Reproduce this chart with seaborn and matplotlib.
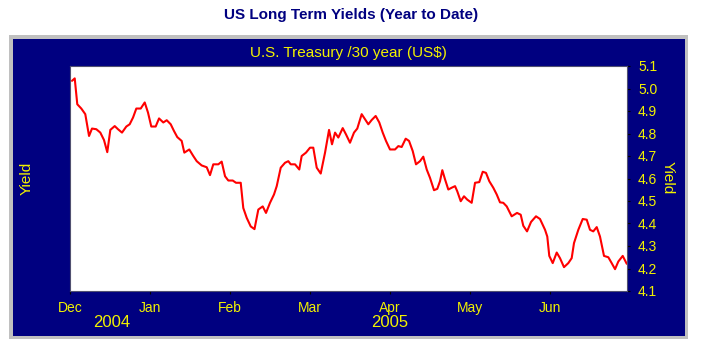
import matplotlib
matplotlib.use("Agg")
import matplotlib.pyplot as plt
from matplotlib.patches import Rectangle
import seaborn as sns
import pandas as pd

# ---- data (x in months since 1 Dec 2004, y = 30-year yield %) ----
month_pos = [0.025, 0.059, 0.091, 0.141, 0.191, 0.238, 0.275, 0.329, 0.379, 0.425,
             0.466, 0.504, 0.559, 0.600, 0.650, 0.704, 0.746, 0.788, 0.829, 0.884,
             0.934, 0.975, 1.016, 1.071, 1.113, 1.166, 1.209, 1.259, 1.300, 1.341,
             1.396, 1.429, 1.491, 1.541, 1.584, 1.646, 1.709, 1.750, 1.791, 1.854,
             1.896, 1.938, 1.979, 2.034, 2.075, 2.134, 2.166, 2.209, 2.259, 2.306,
             2.354, 2.409, 2.450, 2.500, 2.550, 2.584, 2.634, 2.688, 2.729, 2.759,
             2.813, 2.866, 2.896, 2.950, 3.000, 3.041, 3.084, 3.134, 3.188, 3.238,
             3.275, 3.313, 3.354, 3.409, 3.450, 3.500, 3.550, 3.591, 3.646, 3.688,
             3.729, 3.771, 3.821, 3.866, 3.909, 3.950, 4.000, 4.063, 4.104, 4.146,
             4.196, 4.238, 4.284, 4.325, 4.375, 4.416, 4.459, 4.500, 4.550, 4.591,
             4.625, 4.654, 4.688, 4.729, 4.771, 4.813, 4.841, 4.884, 4.925, 4.966,
             5.021, 5.063, 5.116, 5.159, 5.200, 5.241, 5.291, 5.334, 5.375, 5.416,
             5.459, 5.521, 5.588, 5.634, 5.666, 5.713, 5.763, 5.825, 5.875, 5.938,
             5.966, 5.991, 6.034, 6.084, 6.125, 6.175, 6.229, 6.271, 6.300, 6.354,
             6.409, 6.459, 6.500, 6.541, 6.584, 6.625, 6.675, 6.729, 6.771, 6.813,
             6.854, 6.909, 6.959]
yields = [5.034, 5.045, 4.930, 4.911, 4.886, 4.789, 4.822, 4.819, 4.804, 4.771,
          4.717, 4.816, 4.833, 4.819, 4.804, 4.831, 4.841, 4.871, 4.911, 4.911,
          4.938, 4.893, 4.831, 4.831, 4.867, 4.849, 4.859, 4.841, 4.811, 4.784,
          4.767, 4.715, 4.729, 4.700, 4.677, 4.658, 4.650, 4.615, 4.663, 4.663,
          4.675, 4.610, 4.591, 4.591, 4.581, 4.581, 4.469, 4.425, 4.387, 4.375,
          4.462, 4.476, 4.447, 4.492, 4.529, 4.566, 4.648, 4.670, 4.677, 4.663,
          4.663, 4.640, 4.700, 4.715, 4.737, 4.737, 4.648, 4.622, 4.715, 4.816,
          4.752, 4.804, 4.782, 4.824, 4.796, 4.759, 4.804, 4.822, 4.886, 4.863,
          4.841, 4.860, 4.878, 4.849, 4.804, 4.767, 4.729, 4.729, 4.744, 4.740,
          4.777, 4.767, 4.722, 4.663, 4.677, 4.697, 4.640, 4.603, 4.548, 4.554,
          4.588, 4.637, 4.596, 4.551, 4.559, 4.566, 4.543, 4.499, 4.521, 4.506,
          4.492, 4.581, 4.584, 4.630, 4.625, 4.588, 4.559, 4.529, 4.494, 4.492,
          4.476, 4.432, 4.447, 4.439, 4.390, 4.365, 4.407, 4.432, 4.420, 4.372,
          4.342, 4.256, 4.224, 4.271, 4.246, 4.206, 4.224, 4.246, 4.313, 4.372,
          4.420, 4.417, 4.372, 4.365, 4.384, 4.342, 4.256, 4.250, 4.224, 4.197,
          4.231, 4.256, 4.221]
month_labels = ["Dec", "Jan", "Feb", "Mar", "Apr", "May", "Jun"]
year_labels = ["2004", "2005"]
y_ticks = [4.1, 4.2, 4.3, 4.4, 4.5, 4.6, 4.7, 4.8, 4.9, 5.0, 5.1]

df = pd.DataFrame({"t": month_pos, "yield": yields})

sns.set_style("white")
plt.rcParams["font.family"] = ["Liberation Sans", "DejaVu Sans"]

NAVY = "#000080"
YEL = "#f2f200"
W, H = 701, 348

fig = plt.figure(figsize=(W / 100, H / 100), dpi=100)
fig.patch.set_facecolor("white")

def fx(x):
    return x / W

def fy(y):
    return 1 - y / H

# frame
fig.patches.append(Rectangle((fx(9), fy(339)), (688 - 9) / W, (339 - 35) / H,
                             transform=fig.transFigure, facecolor="#c0c0c0",
                             edgecolor="none", zorder=-10))
fig.patches.append(Rectangle((fx(13), fy(335.5)), (685 - 13) / W, (335.5 - 39) / H,
                             transform=fig.transFigure, facecolor=NAVY,
                             edgecolor="none", zorder=-9))

ax = fig.add_axes([fx(70), fy(291), (627 - 70) / W, (291 - 66) / H])
ax.set_zorder(1)
ax.set_facecolor("white")
sns.lineplot(data=df, x="t", y="yield", ax=ax, color="#ff0000", lw=1.5)

ax.set_xlim(0, 6.9625)
ax.set_ylim(4.1, 5.1)
ax.yaxis.tick_right()
ax.set_yticks(y_ticks)
ax.set_yticklabels([f"{v:.1f}" for v in y_ticks])
ax.set_xticks(range(len(month_labels)))
ax.set_xticklabels(month_labels)
ax.tick_params(axis="both", colors="black", labelcolor=YEL, labelsize=10,
               length=2, width=0.8, direction="out")
ax.tick_params(axis="y", pad=6)
ax.tick_params(axis="x", pad=13, bottom=True)
for lab in ax.get_xticklabels():
    lab.set_verticalalignment("baseline")
ax.set_xlabel("")
ax.set_ylabel("")
for s in ax.spines.values():
    s.set_color("#505070")
    s.set_linewidth(0.8)

# texts
fig.text(fx(351), fy(15), "US Long Term Yields (Year to Date)", ha="center", va="center",
         fontsize=11, fontweight="bold", color=NAVY)
fig.text(fx(348), fy(53), "U.S. Treasury /30 year (US$)", ha="center", va="center",
         fontsize=11, color=YEL)
fig.text(fx(27), fy(178), "Yield", ha="center", va="center", rotation=90,
         fontsize=11, color=YEL)
fig.text(fx(668), fy(178), "Yield", ha="center", va="center", rotation=-90,
         fontsize=11, color=YEL)
fig.text(fx(112), fy(327), year_labels[0], ha="center", va="baseline",
         fontsize=12, color=YEL)
fig.text(fx(390), fy(327), year_labels[1], ha="center", va="baseline",
         fontsize=12, color=YEL)

fig.savefig("out.png", dpi=100, facecolor="white")
